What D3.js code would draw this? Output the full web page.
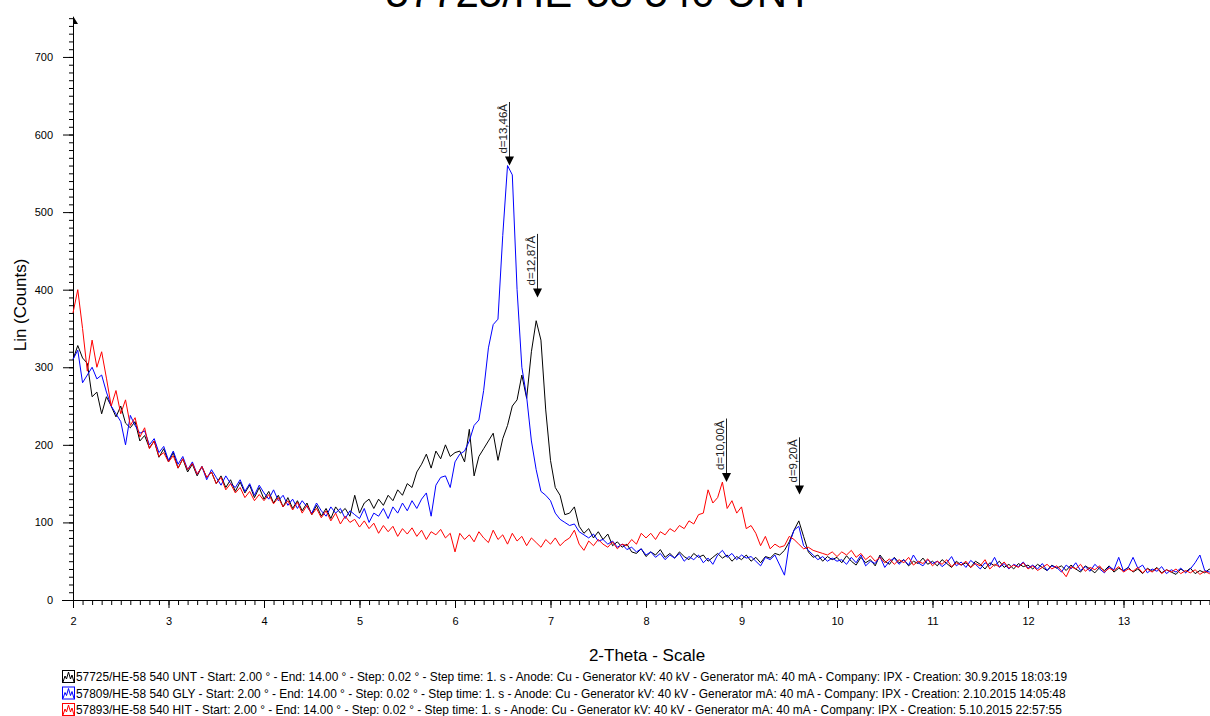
<!DOCTYPE html>
<html>
<head>
<meta charset="utf-8">
<script src="https://cdn.jsdelivr.net/npm/d3@7"></script>
<style>
  body { margin: 0; background: #fff; }
  svg { display: block; font-family: "Liberation Sans", Arial, sans-serif; }
</style>
</head>
<body>
<div id="chart"></div>
<script>
// scan title and settings
var title = "57725/HE-58 540 UNT";
var start = 2.0, step = 0.05;

// counts, one value every 0.05 deg from 2.00 to 14.00
var unt = [
  310, 328, 312, 305, 262, 268, 240, 262, 250, 236, 250, 228, 222, 230, 205, 212, 196, 205, 184, 195,
  178, 190, 170, 182, 165, 175, 160, 172, 158, 165, 150, 160, 145, 155, 140, 152, 138, 148, 132, 145,
  130, 140, 125, 135, 120, 132, 118, 128, 115, 125, 110, 122, 108, 118, 105, 120, 112, 118, 108, 135,
  112, 125, 130, 118, 130, 122, 135, 128, 142, 135, 150, 145, 165, 175, 188, 170, 192, 182, 200, 185,
  190, 192, 178, 220, 160, 185, 195, 205, 215, 180, 208, 225, 250, 258, 290, 260, 320, 360, 335, 245,
  180, 145, 135, 110, 112, 120, 95, 86, 92, 80, 88, 78, 85, 70, 75, 68, 72, 62, 60, 66,
  56, 62, 58, 65, 55, 60, 54, 62, 56, 52, 60, 55, 58, 50, 55, 60, 54, 58, 50, 56,
  52, 58, 50, 55, 48, 56, 54, 60, 58, 64, 75, 90, 102, 82, 62, 55, 58, 50, 56, 52,
  55, 48, 57, 50, 45, 55, 48, 52, 44, 58, 50, 46, 55, 48, 52, 44, 50, 47, 54, 46,
  50, 44, 52, 47, 42, 50, 45, 48, 42, 50, 46, 40, 48, 44, 50, 42, 46, 40, 47, 43,
  45, 40, 46, 42, 38, 45, 41, 44, 38, 45, 40, 36, 44, 40, 35, 42, 38, 44, 36, 41,
  38, 42, 36, 40, 34, 41, 37, 42, 35, 39, 36, 33, 40, 36, 41, 34, 38, 35, 40, 33,
  37
];
var gly = [
  310, 322, 280, 290, 300, 285, 290, 268, 250, 240, 230, 200, 238, 225, 215, 218, 200, 208, 190, 198,
  180, 192, 175, 185, 168, 178, 162, 172, 155, 168, 158, 148, 160, 150, 145, 155, 140, 150, 135, 148,
  138, 130, 142, 128, 135, 122, 130, 118, 128, 120, 112, 125, 115, 108, 120, 112, 118, 105, 115, 110,
  105, 118, 100, 112, 108, 118, 105, 120, 112, 125, 115, 128, 118, 130, 138, 108, 148, 158, 160, 145,
  178, 188, 192, 205, 225, 232, 270, 325, 355, 362, 470, 560, 548, 400, 300, 262, 205, 168, 140, 135,
  128, 112, 104, 100, 96, 98, 88, 84, 80, 85, 76, 78, 72, 76, 68, 72, 65, 68, 62, 66,
  58, 62, 55, 60, 52, 58, 54, 60, 50, 56, 52, 58, 48, 54, 46, 58, 64, 55, 60, 52,
  58, 54, 56, 50, 44, 55, 52, 58, 45, 32, 72, 90, 95, 70, 64, 58, 52, 56, 50, 54,
  50, 52, 46, 55, 48, 58, 44, 50, 47, 56, 42, 50, 54, 46, 52, 45, 58, 48, 44, 52,
  47, 50, 43, 48, 56, 44, 49, 42, 51, 46, 40, 48, 44, 55, 42, 47, 40, 46, 43, 49,
  41, 45, 40, 47, 38, 44, 42, 36, 45, 40, 48, 38, 43, 37, 46, 40, 35, 43, 39, 55,
  37, 42, 55, 41, 45, 35, 40, 37, 43, 34, 39, 36, 41, 35, 40, 48, 58, 38, 36, 42,
  38
];
var hit = [
  370, 400, 350, 295, 335, 300, 320, 286, 250, 270, 240, 258, 225, 235, 210, 222, 195, 205, 185, 190,
  178, 186, 170, 182, 168, 176, 162, 172, 158, 165, 150, 158, 142, 150, 138, 145, 132, 140, 128, 136,
  128, 136, 124, 132, 120, 128, 116, 126, 112, 122, 110, 118, 106, 115, 102, 112, 98, 108, 100, 104,
  94, 102, 92, 99, 86, 96, 88, 95, 82, 92, 85, 93, 82, 90, 78, 88, 84, 91, 80, 86,
  62, 86, 78, 84, 75, 88, 80, 74, 90, 78, 84, 72, 86, 76, 82, 70, 80, 74, 68, 78,
  72, 80, 70, 76, 80, 90, 72, 64, 76, 70, 78, 72, 68, 75, 66, 72, 70, 78, 72, 86,
  80, 86, 78, 88, 84, 92, 88, 96, 92, 102, 98, 110, 112, 142, 125, 132, 152, 118, 128, 112,
  120, 92, 96, 86, 70, 82, 66, 72, 68, 70, 82, 78, 72, 66, 68, 64, 62, 60, 58, 62,
  56, 62, 58, 64, 55, 60, 52, 57, 50, 55, 48, 53, 46, 52, 48, 55, 45, 50, 47, 53,
  44, 50, 46, 52, 43, 48, 45, 50, 42, 47, 44, 52, 40, 46, 43, 49, 41, 45, 42, 48,
  40, 44, 38, 42, 46, 40, 44, 38, 30, 43, 40, 46, 37, 42, 39, 44, 36, 41, 38, 43,
  36, 40, 37, 42, 35, 40, 36, 41, 34, 39, 36, 40, 34, 38, 35, 39, 33, 37, 34, 28,
  34
];

var legendTexts = [
  "57725/HE-58 540 UNT - Start: 2.00 \u00b0 - End: 14.00 \u00b0 - Step: 0.02 \u00b0 - Step time: 1. s - Anode: Cu - Generator kV: 40 kV - Generator mA: 40 mA - Company: IPX - Creation: 30.9.2015 18:03:19",
  "57809/HE-58 540 GLY - Start: 2.00 \u00b0 - End: 14.00 \u00b0 - Step: 0.02 \u00b0 - Step time: 1. s - Anode: Cu - Generator kV: 40 kV - Generator mA: 40 mA - Company: IPX - Creation: 2.10.2015 14:05:48",
  "57893/HE-58 540 HIT - Start: 2.00 \u00b0 - End: 14.00 \u00b0 - Step: 0.02 \u00b0 - Step time: 1. s - Anode: Cu - Generator kV: 40 kV - Generator mA: 40 mA - Company: IPX - Creation: 5.10.2015 22:57:55"
];
var colors = ["#000000", "#0000ff", "#ff0000"];

// peak markers: 2-theta position, arrow tip (counts), label
var peakTheta = [6.562, 6.863, 8.835, 9.605];
var peakTip = [560, 390, 152, 136];
var peakLabels = ["d=13,46\u00c5", "d=12,87\u00c5", "d=10,00\u00c5", "d=9,20\u00c5"];

var width = 1210, height = 716;
var plot = {left: 73, right: 1219, top: 17, bottom: 600};

var svg = d3.select('#chart').append('svg')
    .attr('width', width)
    .attr('height', height);
svg.append('rect').attr('width', width).attr('height', height).attr('fill', '#fff');

var x = d3.scaleLinear().domain([2, 14]).range([plot.left, plot.right]);
var y = d3.scaleLinear().domain([0, 751.5]).range([plot.bottom, plot.top]);

// minor + major ticks
svg.append('g')
    .attr('transform', 'translate(0,' + plot.bottom + ')')
    .call(d3.axisBottom(x).tickValues(d3.range(20, 141).map(function(i) { return i / 10; }))
      .tickFormat('').tickSize(5).tickSizeOuter(0))
    .call(function(g) { g.select('.domain').remove(); });
var xAxis = svg.append('g')
    .attr('transform', 'translate(0,' + plot.bottom + ')')
    .call(d3.axisBottom(x).tickValues(d3.range(2, 14)).tickSize(8).tickPadding(9).tickSizeOuter(0));
xAxis.select('.domain').attr('d', 'M' + (plot.left - 11) + ',0.5H' + plot.right);
xAxis.selectAll('text').style('font-size', '11px').attr('fill', '#000');

svg.append('g')
    .attr('transform', 'translate(' + plot.left + ',0)')
    .call(d3.axisLeft(y).tickValues(d3.range(0, 751, 10)).tickFormat('').tickSize(4).tickSizeOuter(0))
    .call(function(g) { g.select('.domain').remove(); });
var yAxis = svg.append('g')
    .attr('transform', 'translate(' + plot.left + ',0)')
    .call(d3.axisLeft(y).tickValues(d3.range(0, 701, 100)).tickSize(10).tickPadding(10).tickSizeOuter(0));
yAxis.select('.domain').attr('d', 'M0.5,' + plot.bottom + 'V' + plot.top);
yAxis.selectAll('text').style('font-size', '11px').attr('fill', '#000');

// small arrow at the top of the y axis
svg.append('path')
    .attr('d', 'M' + plot.left + ',' + (plot.top - 1) + 'L' + (plot.left + 5) + ',' + (plot.top + 7) + 'L' + plot.left + ',' + (plot.top + 7) + 'Z')
    .attr('fill', '#000');

// the three scans
var line = d3.line()
    .x(function(d, i) { return x(start + i * step); })
    .y(function(d) { return y(d); });

[unt, gly, hit].forEach(function(s, k) {
  svg.append('path')
      .datum(s)
      .attr('fill', 'none')
      .attr('stroke', colors[k])
      .attr('stroke-width', 1)
      .attr('stroke-linejoin', 'round')
      .attr('d', line);
});

// peak arrows
peakTheta.forEach(function(t, i) {
  var px = Math.round(x(t)) + 0.5, tip = y(peakTip[i]);
  var g = svg.append('g');
  var label = g.append('text')
      .attr('transform', 'translate(' + (px - 2.5) + ',' + (tip - 12) + ') rotate(-90)')
      .style('font-size', '11.5px')
      .attr('fill', '#222')
      .text(peakLabels[i]);
  var len = label.node().getComputedTextLength();
  g.append('line')
      .attr('x1', px).attr('x2', px)
      .attr('y1', tip - 14 - len).attr('y2', tip - 8)
      .attr('stroke', '#222');
  g.append('path')
      .attr('d', 'M' + (px - 4.5) + ',' + (tip - 9) + 'L' + (px + 4.5) + ',' + (tip - 9) + 'L' + px + ',' + tip + 'Z')
      .attr('fill', '#000');
});

// titles
svg.append('text')
    .attr('x', 599).attr('y', 7)
    .attr('text-anchor', 'middle')
    .style('font-size', '42px')
    .text(title);

svg.append('text')
    .attr('x', 647).attr('y', 661)
    .attr('text-anchor', 'middle')
    .style('font-size', '17px')
    .text('2-Theta - Scale');

svg.append('text')
    .attr('transform', 'translate(26,305) rotate(-90)')
    .attr('text-anchor', 'middle')
    .style('font-size', '17px')
    .text('Lin (Counts)');

// legend
legendTexts.forEach(function(t, i) {
  var by = 681 + i * 16.5;
  var icon = svg.append('g').attr('transform', 'translate(62,' + (by - 11) + ')');
  icon.append('rect')
      .attr('x', 0.5).attr('y', 0.5).attr('width', 12).attr('height', 12)
      .attr('fill', 'none').attr('stroke', colors[i]);
  icon.append('path')
      .attr('d', 'M1,12L3,6L4.5,9L6.5,2L8.5,9L10,5L12,12')
      .attr('fill', 'none').attr('stroke', colors[i]);
  svg.append('text')
      .attr('x', 76).attr('y', by)
      .style('font-size', '11.9px')
      .text(t);
});
</script>
</body>
</html>
